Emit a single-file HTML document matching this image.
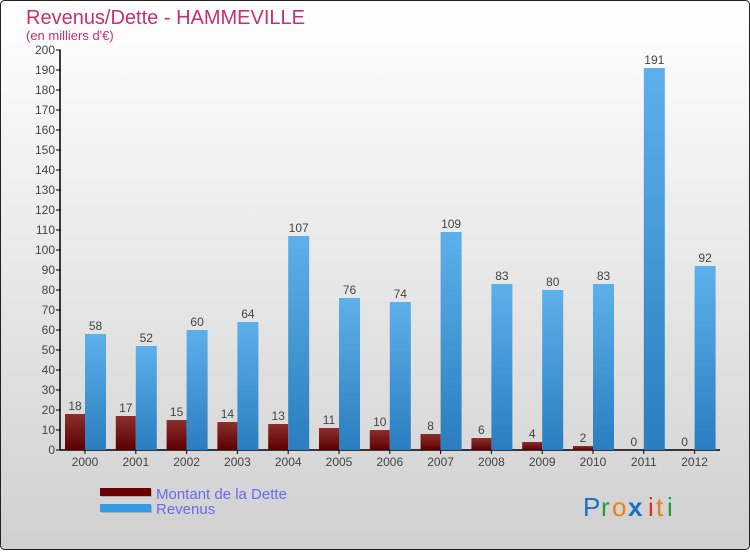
<!DOCTYPE html>
<html><head><meta charset="utf-8"><style>
body{margin:0;width:750px;height:550px;overflow:hidden;font-family:"Liberation Sans",sans-serif}
</style></head><body>
<svg id="chart" width="750" height="550" xmlns="http://www.w3.org/2000/svg">
<defs>
<linearGradient id="bg" x1="0" y1="0" x2="0" y2="1"><stop offset="0" stop-color="#ffffff"/><stop offset="1" stop-color="#d0d0d0"/></linearGradient>
<linearGradient id="gb" x1="0" y1="0" x2="0" y2="1"><stop offset="0" stop-color="#5db0ea"/><stop offset="1" stop-color="#2a7ebf"/></linearGradient>
<linearGradient id="gr" x1="0" y1="0" x2="0" y2="1"><stop offset="0" stop-color="#8e2e2e"/><stop offset="1" stop-color="#5a0000"/></linearGradient>
</defs>
<rect x="0.5" y="0.5" width="749" height="549" rx="4" fill="url(#bg)" stroke="#222"/>
<text x="26" y="24" font-size="20" fill="#c8306a">Revenus/Dette - HAMMEVILLE</text>
<text x="26" y="40" font-size="13" fill="#c8306a">(en milliers d'€)</text>
<g id="axes"></g>
<g id="bars"></g>
<rect x="101" y="489" width="51" height="8" fill="#888" opacity="0.5"/>
<rect x="100" y="488" width="51" height="8" fill="#6a0000"/>
<text x="156" y="499" font-size="15" fill="#6a6aee">Montant de la Dette</text>
<rect x="101" y="505" width="51" height="8" fill="#888" opacity="0.5"/>
<rect x="100" y="504" width="51" height="8" fill="#3399e0"/>
<text x="156" y="514" font-size="15" fill="#6a6aee">Revenus</text>
<g font-size="26" font-family="Liberation Sans, sans-serif">
<text x="583" y="516" fill="#1a70c8">P</text><text x="601" y="516" fill="#2a9a3a">r</text><text x="612" y="516" fill="#f08010">o</text><text x="628" y="516" fill="#1a70c8" font-weight="bold">x</text><text x="648" y="516" fill="#e03010">i</text><text x="656" y="516" fill="#f08010">t</text><text x="667" y="516" fill="#2a9a3a">i</text>
</g>
</svg>
<script>
const years=["2000","2001","2002","2003","2004","2005","2006","2007","2008","2009","2010","2011","2012"];
const dette=[18,17,15,14,13,11,10,8,6,4,2,0,0];
const revenus=[58,52,60,64,107,76,74,109,83,80,83,191,92];
const yTicks=[0,10,20,30,40,50,60,70,80,90,100,110,120,130,140,150,160,170,180,190,200];
const NS="http://www.w3.org/2000/svg";
const x0=60,pitch=50.8,y0=450,ppu=2;
const yS=v=>y0-v*ppu;
function mk(t,a,p,txt){const e=document.createElementNS(NS,t);for(const k in a)e.setAttribute(k,a[k]);if(txt!==undefined)e.textContent=txt;p.appendChild(e);return e;}
const ax=document.getElementById('axes'),bg=document.getElementById('bars');
const yl=mk('line',{x1:x0,y1:50,x2:x0,y2:y0,stroke:'#000','stroke-width':1.5},ax);


const xl=mk('line',{x1:x0,y1:y0,x2:720,y2:y0,stroke:'#000','stroke-width':1.5},ax);


yTicks.forEach(v=>{
 mk('line',{x1:x0-4,y1:yS(v),x2:x0+1,y2:yS(v),stroke:'#000'},ax);
 const t=mk('text',{x:x0-5,y:yS(v)+4,'text-anchor':'end','font-size':12,fill:'#444'},ax,v);
 
 
});
years.forEach((yr,i)=>{
 const g=x0+pitch*i,c=g+25;
 mk('line',{x1:c,y1:y0,x2:c,y2:y0+4,stroke:'#000'},ax);
 const t=mk('text',{x:c,y:y0+16,'text-anchor':'middle','font-size':12,fill:'#444'},ax,yr);
 
 
 const d=dette[i],r=revenus[i];
 const rb=mk('rect',{x:g+5,y:yS(d),width:20,height:d*ppu,fill:'url(#gr)'},bg);
 
 
 const bb=mk('rect',{x:g+25,y:yS(r),width:21,height:r*ppu,fill:'url(#gb)'},bg);
 
 
 const dl=mk('text',{x:g+15,y:yS(d)-4,'text-anchor':'middle','font-size':12,fill:'#444'},bg,d);
 
 
 const rl=mk('text',{x:g+35.5,y:yS(r)-4,'text-anchor':'middle','font-size':12,fill:'#444'},bg,r);
 
 
});
</script>
</body></html>
